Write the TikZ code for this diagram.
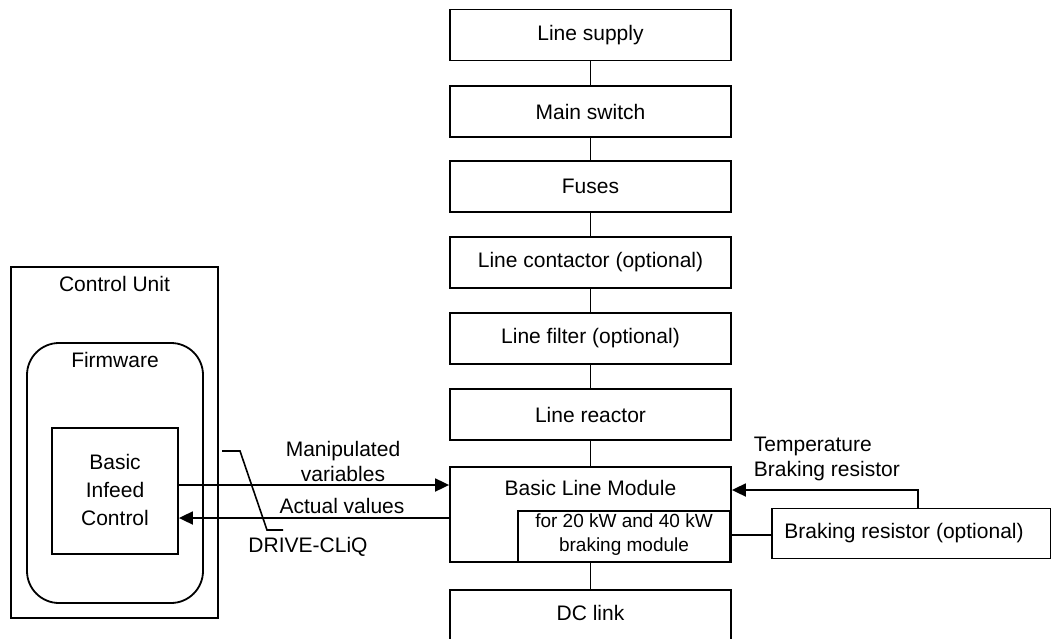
\documentclass[tikz,border=0pt]{standalone}
\usepackage{fontspec}
\setmainfont{Liberation Sans}
\usetikzlibrary{arrows.meta,positioning,calc}
\begin{document}
\begin{tikzpicture}[x=1pt,y=-1pt,
  font=\fontsize{21}{25}\selectfont,
  line width=1.8pt,
  chain box/.style={draw, minimum width=281pt, minimum height=51pt, inner sep=0pt, align=center},
  plain box/.style={draw, inner sep=0pt, align=center},
  arr/.style={-{Triangle[length=14pt,width=13pt]}},
  lbl/.style={inner sep=0pt, align=center}]
\useasboundingbox (0,0) rectangle (1051,639);
% main chain
\node[chain box] (ls)  at (590.5,35)    {Line supply};
\node[chain box] (ms)  at (590.5,111.5) {Main switch};
\node[chain box] (fu)  at (590.5,186.5) {Fuses};
\node[chain box] (lc)  at (590.5,262.5) {Line contactor (optional)};
\node[chain box] (lf)  at (590.5,338.5) {Line filter (optional)};
\node[chain box] (lr)  at (590.5,414.5) {Line reactor};
\node[chain box, minimum height=95pt] (blm) at (590.5,514.5) {};
\node[lbl] (blmt) at (590.5,488) {Basic Line Module};
\node[plain box, minimum width=212pt, minimum height=51pt] (bm) at (624,536.5) {};
\node[lbl, font=\fontsize{19}{24}\selectfont] (bmt) at (624,535) {for 20 kW and 40 kW\\braking module};
\node[chain box] (dc)  at (590.5,615.5) {};
\node[lbl] (dct) at (590.5,613) {DC link};
\draw (ls) -- (ms);
\draw (ms) -- (fu);
\draw (fu) -- (lc);
\draw (lc) -- (lf);
\draw (lf) -- (lr);
\draw (lr) -- (blm);
\draw (blm) -- (dc);
% braking resistor
\node[plain box, minimum width=279pt, minimum height=50pt] (br) at (911.5,533.5) {};
\node[lbl] (brt) at (904,533) {Braking resistor (optional)};
\draw (bm.east |- 0,535) -- (br.west |- 0,535);
\draw[arr] (br.north -| 918,0) |- (blm.east |- 0,490);
\node[lbl, align=left, anchor=west] (temp) at (753,459) {Temperature\\Braking resistor};
% control unit
\node[plain box, minimum width=207pt, minimum height=351pt] (cu) at (114.5,442.5) {};
\node[lbl] (cut) at (114.5,284) {Control Unit};
\node[plain box, rounded corners=32pt, minimum width=176pt, minimum height=260pt] (fw) at (115,473) {};
\node[lbl] (fwt) at (115,360) {Firmware};
\node[plain box, minimum width=126pt, minimum height=126pt] (bic) at (115,491) {};
\node[lbl] (bict) at (115,490) {Basic\\[3pt]Infeed\\[3pt]Control};
% arrows
\draw[arr] (bic.east |- 0,485) -- (blm.west |- 0,485);
\draw[arr] (blm.west |- 0,518) -- (bic.east |- 0,518);
\node[lbl] (mv) at (343,461) {Manipulated\\variables};
\node[lbl] (av) at (342,506) {Actual values};
\node[lbl] (dq) at (308,547) {DRIVE-CLiQ};
\coordinate (dq1) at (222,451);
\coordinate (dq2) at (240,451);
\coordinate (dq3) at (267,530);
\coordinate (dq4) at (283,530);
\draw[line width=1.6pt] (dq1) -- (dq2) -- (dq3) -- (dq4);
\end{tikzpicture}
\end{document}
